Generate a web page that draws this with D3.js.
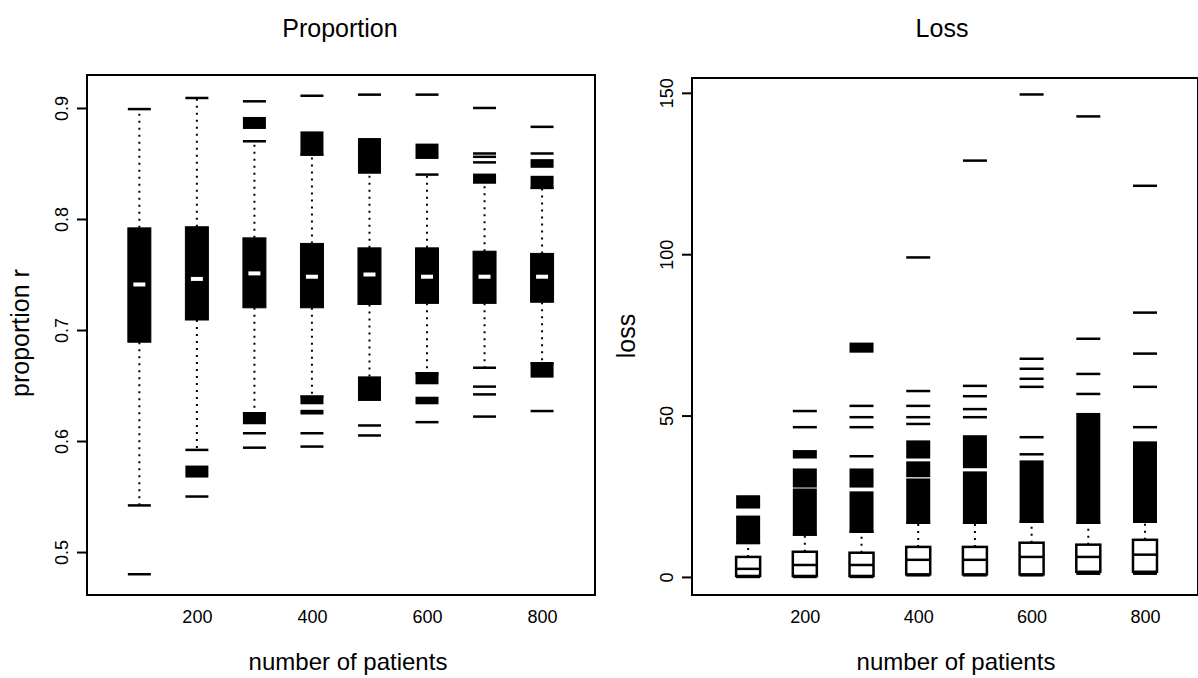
<!DOCTYPE html>
<html>
<head>
<meta charset="utf-8">
<script src="https://cdn.jsdelivr.net/npm/d3@7"></script>
<style>
  html, body { margin: 0; padding: 0; background: #fff; }
  svg { display: block; }
  text { font-family: "Liberation Sans", Arial, Helvetica, sans-serif; fill: #000; }
</style>
</head>
<body>
<svg id="chart" width="1198" height="678"></svg>
<script>
// ---------------- DATA ----------------
const patients = [100, 200, 300, 400, 500, 600, 700, 800];
const xTickValues = [200, 400, 600, 800];

// Panel 1: Proportion
const propTicks = [0.5, 0.6, 0.7, 0.8, 0.9];
const propLowWhisker  = [0.542, 0.592, 0.625, 0.640, 0.657, 0.661, 0.666, 0.670];
const propQ1          = [0.689, 0.709, 0.720, 0.720, 0.723, 0.724, 0.724, 0.725];
const propMedian      = [0.741, 0.746, 0.751, 0.748, 0.750, 0.748, 0.748, 0.748];
const propQ3          = [0.792, 0.793, 0.783, 0.778, 0.774, 0.774, 0.771, 0.769];
const propHighWhisker = [0.899, 0.909, 0.870, 0.858, 0.842, 0.840, 0.833, 0.828];
const propOutliers = [
  [0.480],
  [0.550],
  [0.607, 0.594, 0.906],
  [0.627, 0.625, 0.607, 0.595, 0.911],
  [0.614, 0.605, 0.912],
  [0.617, 0.912],
  [0.649, 0.642, 0.622, 0.859, 0.856, 0.851, 0.900],
  [0.627, 0.859, 0.883]
];
const propOutlierBands = [
  [],
  [[0.568, 0.577]],
  [[0.616, 0.625], [0.882, 0.891]],
  [[0.634, 0.640], [0.858, 0.878]],
  [[0.637, 0.657], [0.842, 0.872]],
  [[0.652, 0.661], [0.634, 0.639], [0.855, 0.867]],
  [[0.833, 0.840]],
  [[0.658, 0.670], [0.828, 0.838], [0.847, 0.853]]
];

// Panel 2: Loss
const lossTicks = [0, 50, 100, 150];
const lossLowWhisker  = [0, 0, 0, 0.5, 0.5, 0.5, 1.0, 1.0];
const lossQ1          = [0.3, 0.3, 0.3, 0.8, 0.8, 0.8, 1.6, 1.6];
const lossMedian      = [2.5, 3.7, 3.7, 5.3, 5.3, 6.2, 6.2, 6.9];
const lossQ3          = [6.2, 7.8, 7.5, 9.3, 9.3, 10.6, 10.0, 11.5];
const lossHighWhisker = [10.5, 13.1, 14.0, 16.8, 16.8, 17.1, 16.8, 17.1];
const lossOutliers = [
  [],
  [46.4, 51.4],
  [37.4, 46.4, 49.5, 53.0],
  [47.4, 49.5, 53.0, 57.6, 99.0],
  [49.5, 52.0, 56.0, 59.2, 129.0],
  [38.0, 43.3, 58.9, 61.4, 64.5, 67.6, 149.5],
  [56.7, 62.9, 73.8, 142.7],
  [46.4, 58.9, 69.2, 81.9, 121.2]
];
const lossOutlierBands = [
  [[10.5, 18.7], [21.5, 25.0]],
  [[13.1, 27.1], [28.0, 33.3], [37.0, 39.0]],
  [[14.0, 26.2], [28.0, 33.3], [69.8, 72.3]],
  [[16.8, 30.2], [31.2, 35.5], [37.0, 42.0]],
  [[16.8, 32.4], [34.0, 43.6]],
  [[17.1, 35.8]],
  [[16.8, 50.5]],
  [[17.1, 41.7]]
];

// ---------------- DRAW ----------------
const svg = d3.select("#chart");

function panel(cfg) {
  const g = svg.append("g");
  const x = d3.scaleLinear().domain(cfg.xDomain).range([cfg.left, cfg.right]);
  const y = d3.scaleLinear().domain(cfg.yDomain).range([cfg.bottom, cfg.top]);
  const bw = cfg.boxWidth;

  const rows = patients.map((p, i) => ({
    p, lo: cfg.low[i], q1: cfg.q1[i], med: cfg.med[i], q3: cfg.q3[i], hi: cfg.high[i],
    out: cfg.outliers[i], bands: cfg.bands[i]
  }));

  const box = g.selectAll("g.box").data(rows).join("g").attr("class", "box");

  // whiskers (dotted)
  box.append("line")
    .attr("x1", d => x(d.p)).attr("x2", d => x(d.p))
    .attr("y1", d => y(d.q3)).attr("y2", d => y(d.hi))
    .attr("stroke", "#000").attr("stroke-width", 2).attr("stroke-dasharray", "2,5");
  box.append("line")
    .attr("x1", d => x(d.p)).attr("x2", d => x(d.p))
    .attr("y1", d => y(d.q1)).attr("y2", d => y(d.lo))
    .attr("stroke", "#000").attr("stroke-width", 2).attr("stroke-dasharray", "2,5");
  // caps
  ["lo", "hi"].forEach(k => {
    box.append("line")
      .attr("x1", d => x(d.p) - bw / 2).attr("x2", d => x(d.p) + bw / 2)
      .attr("y1", d => y(d[k])).attr("y2", d => y(d[k]))
      .attr("stroke", "#000").attr("stroke-width", 2.5);
  });

  // boxes
  box.append("rect")
    .attr("x", d => x(d.p) - bw / 2).attr("width", bw)
    .attr("y", d => y(d.q3)).attr("height", d => y(d.q1) - y(d.q3))
    .attr("fill", cfg.filled ? "#000" : "#fff")
    .attr("stroke", "#000").attr("stroke-width", cfg.filled ? 1 : 2.5);
  // median
  box.append("line")
    .attr("x1", d => x(d.p) - (cfg.filled ? 6 : bw / 2)).attr("x2", d => x(d.p) + (cfg.filled ? 6 : bw / 2))
    .attr("y1", d => y(d.med)).attr("y2", d => y(d.med))
    .attr("stroke", cfg.filled ? "#fff" : "#000").attr("stroke-width", cfg.filled ? 4 : 2.5);

  // outlier bands (dense stacks of outliers) and single outliers
  box.each(function(d) {
    d3.select(this).selectAll("rect.band").data(d.bands).join("rect").attr("class", "band")
      .attr("x", x(d.p) - bw / 2).attr("width", bw)
      .attr("y", b => y(b[1]) - 1).attr("height", b => Math.max(2, y(b[0]) - y(b[1]) + 2))
      .attr("fill", "#000");
    d3.select(this).selectAll("line.out").data(d.out).join("line").attr("class", "out")
      .attr("x1", x(d.p) - bw / 2).attr("x2", x(d.p) + bw / 2)
      .attr("y1", v => y(v)).attr("y2", v => y(v))
      .attr("stroke", "#000").attr("stroke-width", 2.5);
  });

  // frame
  g.append("rect")
    .attr("x", cfg.left).attr("y", cfg.top)
    .attr("width", cfg.right - cfg.left).attr("height", cfg.bottom - cfg.top)
    .attr("fill", "none").attr("stroke", "#000").attr("stroke-width", 2);

  // y axis
  const ya = g.append("g").attr("transform", `translate(${cfg.left},0)`)
    .call(d3.axisLeft(y).tickValues(cfg.yTicks).tickSize(10).tickFormat(cfg.yFormat));
  ya.select(".domain").remove();
  ya.selectAll(".tick line").attr("stroke-width", 2);
  ya.selectAll(".tick text")
    .attr("x", null).attr("dy", null)
    .attr("transform", "translate(-19,0) rotate(-90)")
    .attr("text-anchor", "middle")
    .attr("font-size", 18).attr("font-family", "Liberation Sans, Arial, sans-serif");

  // x axis labels (no tick marks)
  const xa = g.append("g").attr("transform", `translate(0,${cfg.bottom})`)
    .call(d3.axisBottom(x).tickValues(xTickValues).tickSize(0).tickFormat(d3.format("d")));
  xa.select(".domain").remove();
  xa.selectAll(".tick text").attr("y", 28).attr("dy", null)
    .attr("font-size", 18).attr("font-family", "Liberation Sans, Arial, sans-serif");

  // titles
  g.append("text").attr("x", cfg.titleX).attr("y", 37).attr("text-anchor", "middle")
    .attr("font-size", 25).text(cfg.title);
  g.append("text").attr("x", cfg.xlabX).attr("y", 670).attr("text-anchor", "middle")
    .attr("font-size", 24).text("number of patients");
  g.append("text").attr("transform", `translate(${cfg.ylabX},${cfg.ylabY}) rotate(-90)`)
    .attr("text-anchor", "middle").attr("font-size", 25).text(cfg.ylab);
}

panel({
  title: "Proportion", titleX: 340, xlabX: 348,
  ylab: "proportion r", ylabX: 29, ylabY: 333,
  left: 87, right: 595, top: 75, bottom: 595,
  xDomain: [9, 892], yDomain: [0.4613, 0.9297],
  yTicks: propTicks, yFormat: d3.format(".1f"),
  boxWidth: 23, filled: true,
  low: propLowWhisker, q1: propQ1, med: propMedian, q3: propQ3, high: propHighWhisker,
  outliers: propOutliers, bands: propOutlierBands
});

panel({
  title: "Loss", titleX: 942, xlabX: 956,
  ylab: "loss", ylabX: 635, ylabY: 336,
  left: 692, right: 1198, top: 78, bottom: 595,
  xDomain: [1, 893.5], yDomain: [-5.6, 154.6],
  yTicks: lossTicks, yFormat: d3.format("d"),
  boxWidth: 24, filled: false,
  low: lossLowWhisker, q1: lossQ1, med: lossMedian, q3: lossQ3, high: lossHighWhisker,
  outliers: lossOutliers, bands: lossOutlierBands
});
</script>
</body>
</html>
